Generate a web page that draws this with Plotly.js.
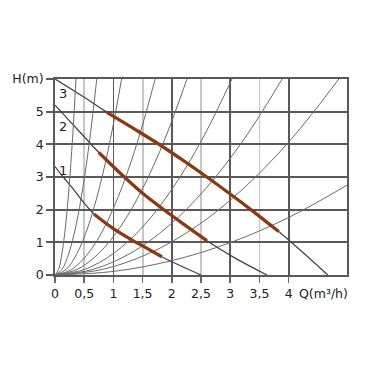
<!DOCTYPE html>
<html>
<head>
<meta charset="utf-8">
<script src="https://cdn.plot.ly/plotly-3.0.1.min.js"></script>
<style>html,body{margin:0;padding:0;background:#fff;}#chart{width:374px;height:374px;}</style>
</head>
<body>
<div id="chart"></div>
<script>
// x tick labels (Q, m³/h) and y tick labels (H, m)
const xTickVals = [0, 0.5, 1, 1.5, 2, 2.5, 3, 3.5, 4];
const xTickText = ["0", "0,5", "1", "1,5", "2", "2,5", "3", "3,5", "4"];
const yTickVals = [0, 1, 2, 3, 4, 5, 6];
const yTickText = ["0", "1", "2", "3", "4", "5", "H(m)"];

// pump curves (speed 1, 2, 3)
const pump1X = [0, 0.14, 0.3, 0.5, 0.67, 1.0, 1.3, 1.5, 1.83, 2.14, 2.5];
const pump1Y = [3.32, 3.0, 2.66, 2.2, 1.86, 1.42, 1.09, 0.89, 0.56, 0.29, 0];
const pump2X = [0, 0.3, 0.63, 0.75, 1.15, 1.5, 1.87, 2.2, 2.6, 3.1, 3.63];
const pump2Y = [5.2, 4.62, 3.98, 3.75, 3.06, 2.5, 1.99, 1.56, 1.05, 0.5, 0];
const pump3X = [0, 0.5, 0.9, 1.35, 1.8, 2.2, 2.6, 3.0, 3.37, 3.83, 4.25, 4.67];
const pump3Y = [6, 5.44, 4.97, 4.48, 3.98, 3.5, 3.0, 2.48, 1.98, 1.33, 0.68, 0];

// highlighted operating ranges
const work1X = [0.67, 1.0, 1.3, 1.5, 1.83];
const work1Y = [1.86, 1.42, 1.09, 0.89, 0.56];
const work2X = [0.75, 1.15, 1.5, 1.87, 2.2, 2.6];
const work2Y = [3.75, 3.06, 2.5, 1.99, 1.56, 1.05];
const work3X = [0.89, 1.35, 1.8, 2.2, 2.6, 3.0, 3.37, 3.83];
const work3Y = [4.98, 4.48, 3.98, 3.5, 3.0, 2.48, 1.98, 1.33];

// system (pipe) curves from origin
const sysY = [0, 0.17, 0.67, 1.5, 2.67, 4.17, 6.0];
const sysX1 = [0, 0.06, 0.12, 0.18, 0.24, 0.30, 0.36];
const sysX2 = [0, 0.119, 0.238, 0.358, 0.477, 0.596, 0.715];
const sysX3 = [0, 0.19, 0.38, 0.57, 0.76, 0.95, 1.14];
const sysX4 = [0, 0.286, 0.572, 0.858, 1.143, 1.429, 1.715];
const sysX5 = [0, 0.377, 0.753, 1.13, 1.507, 1.883, 2.26];
const sysX6 = [0, 0.505, 1.01, 1.515, 2.02, 2.525, 3.03];
const sysX7 = [0, 0.648, 1.297, 1.945, 2.593, 3.242, 3.89];
const sysX8 = [0, 0.81, 1.62, 2.43, 3.24, 4.05, 4.86];
const sysX9 = [0, 1, 2, 3, 4, 5];
const sysY9 = [0, 0.11, 0.44, 0.99, 1.76, 2.75];

const curveLabels = ["1", "2", "3"];
const curveLabelX = [0.14, 0.14, 0.14];
const curveLabelY = [3.2, 4.55, 5.55];

const traces = [];
const sysSets = [[sysX1, sysY], [sysX2, sysY], [sysX3, sysY], [sysX4, sysY], [sysX5, sysY],
                 [sysX6, sysY], [sysX7, sysY], [sysX8, sysY], [sysX9, sysY9]];
sysSets.forEach(function (s, i) {
  traces.push({x: s[0], y: s[1], mode: 'lines', xaxis: i === 0 ? 'x2' : 'x',
    line: {color: '#6a6a6a', width: 1, shape: 'spline', smoothing: 1}, hoverinfo: 'skip'});
});
[[pump1X, pump1Y], [pump2X, pump2Y], [pump3X, pump3Y]].forEach(function (p) {
  traces.push({x: p[0], y: p[1], mode: 'lines',
    line: {color: '#454545', width: 1.3, shape: 'spline', smoothing: 1}, hoverinfo: 'skip'});
});
[[work1X, work1Y], [work2X, work2Y], [work3X, work3Y]].forEach(function (p) {
  traces.push({x: p[0], y: p[1], mode: 'lines',
    line: {color: '#8a3a12', width: 3.3, shape: 'spline', smoothing: 1}, hoverinfo: 'skip'});
});

const font = {family: 'DejaVu Sans, Verdana, sans-serif', size: 12.5, color: '#222'};
const annotations = curveLabels.map(function (t, i) {
  return {x: curveLabelX[i], y: curveLabelY[i], text: t, showarrow: false,
    font: {family: font.family, size: 13, color: '#222'}, xanchor: 'center', yanchor: 'middle'};
});
annotations.push({x: 4.15, y: 0, xref: 'x', yref: 'y', text: 'Q(m³/h)', showarrow: false,
  xanchor: 'left', yanchor: 'middle', yshift: -18, font: font});

const layout = {
  width: 374, height: 374,
  margin: {l: 55, r: 27, t: 79, b: 99},
  paper_bgcolor: '#fff', plot_bgcolor: '#fff',
  showlegend: false,
  font: font,
  xaxis: {range: [0, 5], tickmode: 'array', tickvals: xTickVals, ticktext: xTickText,
    showgrid: true, gridcolor: '#c6c6c6', gridwidth: 1.8, zeroline: false,
    ticks: 'outside', ticklen: 6, tickcolor: '#666', tickwidth: 1.6,
    showline: true, mirror: true, linecolor: '#595959', linewidth: 1.9,
    tickfont: font, fixedrange: true},
  xaxis2: {range: [0, 5], overlaying: 'x', dtick: 1, tick0: 0, showgrid: true,
    gridcolor: '#595959', gridwidth: 1.8, zeroline: false, showticklabels: false,
    ticks: '', showline: false, fixedrange: true},
  yaxis: {range: [0, 6], tickmode: 'array', tickvals: yTickVals, ticktext: yTickText,
    showgrid: true, gridcolor: '#595959', gridwidth: 1.8, zeroline: false,
    ticks: 'outside', ticklen: 7, tickcolor: '#595959', tickwidth: 1.8,
    showline: true, mirror: true, linecolor: '#595959', linewidth: 1.9,
    tickfont: font, fixedrange: true},
  annotations: annotations
};

Plotly.newPlot('chart', traces, layout, {staticPlot: true, displayModeBar: false});
</script>
</body>
</html>
